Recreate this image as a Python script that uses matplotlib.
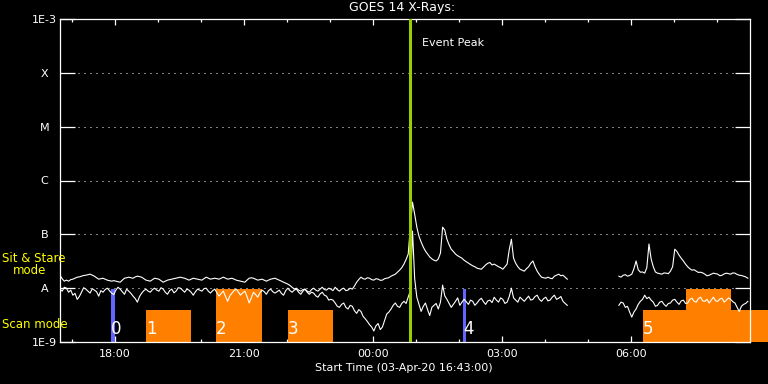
import numpy as np
import matplotlib
matplotlib.use("Agg")
import matplotlib.pyplot as plt
from matplotlib.ticker import NullLocator

# time axis: hours after 16:43 UT (03-Apr-20), one sample every 3 minutes
step_h = 0.05
seg1_start = 0.0
seg2_start = 13.0

# GOES 14 flux, units of 1e-8 W/m^2 (two segments, data gap in between)
long_seg1 = [0.96, 0.88, 1.04, 1.00, 0.84, 0.92, 0.74, 0.80, 0.62, 0.70, 0.84, 1.02, 0.96, 0.88, 0.81, 0.98, 0.92, 0.86, 0.71, 0.90,
             0.84, 0.94, 1.00, 0.90, 0.81, 0.76, 0.92, 1.04, 0.96, 0.86, 0.77, 0.96, 0.88, 0.80, 0.71, 0.64, 0.55, 0.70, 0.81, 0.90,
             0.96, 0.88, 0.84, 0.94, 1.00, 0.92, 0.88, 1.02, 0.96, 0.84, 0.77, 0.90, 0.96, 0.82, 0.88, 1.02, 1.00, 0.92, 0.84, 0.96,
             0.92, 0.84, 0.74, 0.86, 0.96, 0.92, 0.88, 0.98, 1.00, 0.88, 0.81, 0.90, 0.96, 0.82, 0.71, 0.80, 0.88, 0.70, 0.57, 0.72,
             0.81, 0.90, 0.96, 0.84, 0.74, 0.82, 0.88, 0.70, 0.53, 0.66, 0.84, 0.76, 0.68, 0.82, 0.92, 0.86, 0.77, 0.90, 0.96, 0.86,
             0.81, 0.86, 0.92, 0.80, 0.74, 0.90, 1.00, 0.90, 0.84, 0.92, 0.96, 0.84, 0.77, 0.88, 0.96, 0.88, 0.84, 0.94, 1.00, 0.92,
             0.88, 0.96, 1.04, 0.94, 0.92, 1.00, 0.96, 0.90, 1.04, 0.94, 0.88, 0.96, 1.00, 0.90, 0.92, 1.00, 0.96, 1.10, 1.29, 1.45,
             1.60, 1.50, 1.47, 1.56, 1.53, 1.44, 1.41, 1.50, 1.47, 1.40, 1.41, 1.50, 1.53, 1.57, 1.67, 1.74, 1.82, 1.98, 2.16, 2.4,
             2.8, 3.4, 4.3, 14.0, 39.6, 23.6, 13.6, 9.2, 7.2, 5.8, 4.9, 4.3, 3.8, 3.5, 3.3, 3.2, 3.5, 4.5, 13.6, 12.0,
             8.1, 6.4, 5.3, 4.8, 4.3, 4.0, 3.8, 3.6, 3.3, 3.1, 2.9, 2.75, 2.6, 2.5, 2.35, 2.3, 2.25, 2.45, 2.7, 2.9,
             3.0, 2.7, 2.8, 2.65, 2.5, 2.4, 2.25, 2.5, 2.8, 5.2, 8.1, 3.6, 2.9, 2.5, 2.25, 2.16, 2.07, 2.3, 2.5, 2.9,
             3.2, 2.5, 2.07, 1.80, 1.60, 1.56, 1.53, 1.60, 1.53, 1.50, 1.67, 1.74, 1.82, 1.70, 1.74, 1.60, 1.47]
long_seg2 = [1.67, 1.60, 1.74, 1.78, 1.67, 1.72, 1.82, 2.3, 3.2, 2.2, 1.98, 2.0, 1.90, 2.4, 6.6, 3.5, 2.5, 2.0, 1.90, 1.86,
             1.82, 1.92, 1.90, 1.86, 2.07, 2.5, 5.3, 4.8, 4.1, 3.6, 3.2, 2.8, 2.5, 2.3, 2.16, 2.2, 2.07, 1.96, 1.98, 1.92,
             1.82, 1.70, 1.74, 1.82, 1.90, 1.86, 1.82, 1.70, 1.74, 1.84, 1.90, 1.86, 1.82, 1.92, 1.90, 1.80, 1.74, 1.72, 1.67, 1.62, 1.53]
short_seg1 = [1.74, 1.50, 1.35, 1.41, 1.35, 1.44, 1.47, 1.53, 1.60, 1.62, 1.67, 1.72, 1.74, 1.78, 1.82, 1.74, 1.67, 1.56, 1.47, 1.50,
              1.53, 1.47, 1.41, 1.38, 1.35, 1.38, 1.35, 1.32, 1.29, 1.41, 1.53, 1.56, 1.60, 1.56, 1.53, 1.62, 1.67, 1.64, 1.60, 1.50,
              1.41, 1.38, 1.35, 1.44, 1.53, 1.50, 1.47, 1.38, 1.29, 1.35, 1.41, 1.44, 1.47, 1.50, 1.53, 1.56, 1.60, 1.56, 1.53, 1.47,
              1.41, 1.47, 1.53, 1.50, 1.47, 1.44, 1.41, 1.50, 1.60, 1.53, 1.47, 1.50, 1.53, 1.50, 1.47, 1.53, 1.60, 1.53, 1.47, 1.50,
              1.53, 1.47, 1.41, 1.38, 1.35, 1.32, 1.29, 1.41, 1.53, 1.56, 1.53, 1.47, 1.41, 1.44, 1.47, 1.41, 1.35, 1.41, 1.47, 1.50,
              1.53, 1.47, 1.41, 1.35, 1.29, 1.24, 1.19, 1.12, 1.04, 0.96, 1.00, 0.92, 0.88, 0.94, 0.96, 0.84, 0.77, 0.84, 0.81, 0.72,
              0.68, 0.78, 0.84, 0.74, 0.71, 0.60, 0.62, 0.60, 0.53, 0.46, 0.44, 0.50, 0.53, 0.44, 0.41, 0.48, 0.46, 0.38, 0.34, 0.40,
              0.37, 0.30, 0.27, 0.24, 0.21, 0.19, 0.16, 0.20, 0.22, 0.17, 0.19, 0.25, 0.33, 0.36, 0.41, 0.48, 0.53, 0.46, 0.44, 0.52,
              0.57, 0.52, 0.68, 0.9, 11.5, 1.5, 0.68, 0.50, 0.37, 0.46, 0.53, 0.40, 0.31, 0.44, 0.48, 0.52, 0.41, 0.55, 1.14, 0.72,
              0.62, 0.52, 0.44, 0.50, 0.57, 0.66, 0.48, 0.55, 0.62, 0.56, 0.50, 0.60, 0.57, 0.48, 0.53, 0.60, 0.65, 0.56, 0.50, 0.58,
              0.60, 0.54, 0.68, 0.60, 0.55, 0.66, 0.62, 0.52, 0.55, 0.70, 1.00, 0.66, 0.60, 0.55, 0.68, 0.62, 0.57, 0.64, 0.71, 0.60,
              0.62, 0.70, 0.74, 0.62, 0.57, 0.64, 0.68, 0.58, 0.60, 0.68, 0.74, 0.62, 0.65, 0.70, 0.57, 0.52, 0.48]
short_seg2 = [0.48, 0.55, 0.53, 0.44, 0.46, 0.36, 0.29, 0.36, 0.41, 0.50, 0.57, 0.62, 0.74, 0.64, 0.68, 0.60, 0.55, 0.46, 0.48, 0.55,
              0.57, 0.50, 0.46, 0.52, 0.53, 0.60, 0.62, 0.55, 0.50, 0.58, 0.60, 0.52, 0.53, 0.62, 0.65, 0.57, 0.55, 0.64, 0.68, 0.58,
              0.57, 0.62, 0.53, 0.60, 0.68, 0.58, 0.57, 0.63, 0.65, 0.55, 0.60, 0.66, 0.62, 0.56, 0.53, 0.44, 0.37, 0.46, 0.50, 0.52, 0.57]

ytick_vals = [1e-9, 1e-8, 1e-7, 1e-6, 1e-5, 1e-4, 1e-3]
ytick_labels = ['1E-9', 'A', 'B', 'C', 'M', 'X', '1E-3']
first_hour = 17 / 60  # 17:00 after 16:43
xtick_labels = ['18:00', '21:00', '00:00', '03:00', '06:00']
t_end = 16.05

event_peak = 8.15

# observing blocks (hours after start)
scan_start = [2.0, 5.30, 13.56]
scan_end = [3.05, 6.35, 16.47]
sit_start = [3.63, 14.56]
sit_end = [4.70, 15.60]
mark_start = [1.19, 9.37]
mark_end = [1.27, 9.45]
block_labels = ['0', '1', '2', '3', '4', '5']
block_pos = [1.19, 2.0, 3.63, 5.30, 9.37, 13.56]

fig = plt.figure(figsize=(7.68, 3.84), dpi=100, facecolor='black')
ax = fig.add_axes([60/768, 42/384, 690/768, 323/384], facecolor='black')
ax.set_yscale('log')
ax.set_ylim(1e-9, 1e-3)
ax.set_xlim(0, t_end)

for v in ytick_vals[1:-1]:
    ax.axhline(v, color='white', lw=0.72, ls=(0, (1, 5)), zorder=1)

for a, b in zip(scan_start, scan_end):
    ax.axvspan(a, b, ymin=0, ymax=0.099, color='#ff8000', lw=0, zorder=2, clip_on=False)
for a, b in zip(sit_start, sit_end):
    ax.axvspan(a, b, ymin=0, ymax=0.164, color='#ff8000', lw=0, zorder=2, clip_on=False)
for a, b in zip(mark_start, mark_end):
    ax.axvspan(a, b, ymin=0, ymax=0.164, color='#6464ff', lw=0, zorder=2)

t1 = seg1_start + step_h * np.arange(len(long_seg1))
t2 = seg2_start + step_h * np.arange(len(long_seg2))
ax.plot(t1, np.array(long_seg1) * 1e-8, color='white', lw=0.8, zorder=3)
ax.plot(t2, np.array(long_seg2) * 1e-8, color='white', lw=0.8, zorder=3)
ax.plot(t1, np.array(short_seg1) * 1e-8, color='white', lw=0.8, zorder=3)
ax.plot(t2, np.array(short_seg2) * 1e-8, color='white', lw=0.8, zorder=3)

ax.axvline(event_peak, color='#9acd00', lw=2.2, zorder=4)
ax.text(event_peak + 0.27, 0.926, 'Event Peak', color='white', fontsize=8,
        ha='left', va='center', transform=ax.get_xaxis_transform())

for lab, x in zip(block_labels, block_pos):
    ax.text(x, 0.012, lab, color='white', fontsize=12,
            ha='left', va='bottom', transform=ax.get_xaxis_transform(), zorder=5)

# axes styling
for sp in ax.spines.values():
    sp.set_color('white')
    sp.set_linewidth(0.9)
ax.set_yticks(ytick_vals, ytick_labels)
ax.yaxis.set_minor_locator(NullLocator())
ax.tick_params(axis='y', which='major', direction='in', length=10.8, width=0.9,
               left=True, right=True, colors='white', labelsize=8, pad=11)
for lbl in ax.get_yticklabels():
    lbl.set_horizontalalignment('center')

ax.set_xticks(first_hour + 1 + 3 * np.arange(len(xtick_labels)), xtick_labels)
ax.set_xticks(first_hour + np.arange(0, 16), minor=True)
ax.tick_params(axis='x', which='major', direction='in', length=4.3, width=0.9,
               top=True, bottom=True, colors='white', labelsize=8, pad=5)
ax.tick_params(axis='x', which='minor', direction='in', length=2.2, width=0.9,
               top=True, bottom=True, colors='white')

fig.text(402/768, 1 - 8/384, 'GOES 14 X-Rays:', color='white', fontsize=9,
         ha='center', va='center')
fig.text(404/768, 1 - 368/384, 'Start Time (03-Apr-20 16:43:00)', color='white',
         fontsize=8, ha='center', va='center')
fig.text(2/768, 1 - 258/384, 'Sit & Stare', color='yellow', fontsize=8.5,
         ha='left', va='center')
fig.text(13/768, 1 - 271/384, 'mode', color='yellow', fontsize=8.5,
         ha='left', va='center')
fig.text(2/768, 1 - 324/384, 'Scan mode', color='yellow', fontsize=8.5,
         ha='left', va='center')

fig.savefig('out.png', dpi=100, facecolor='black')
